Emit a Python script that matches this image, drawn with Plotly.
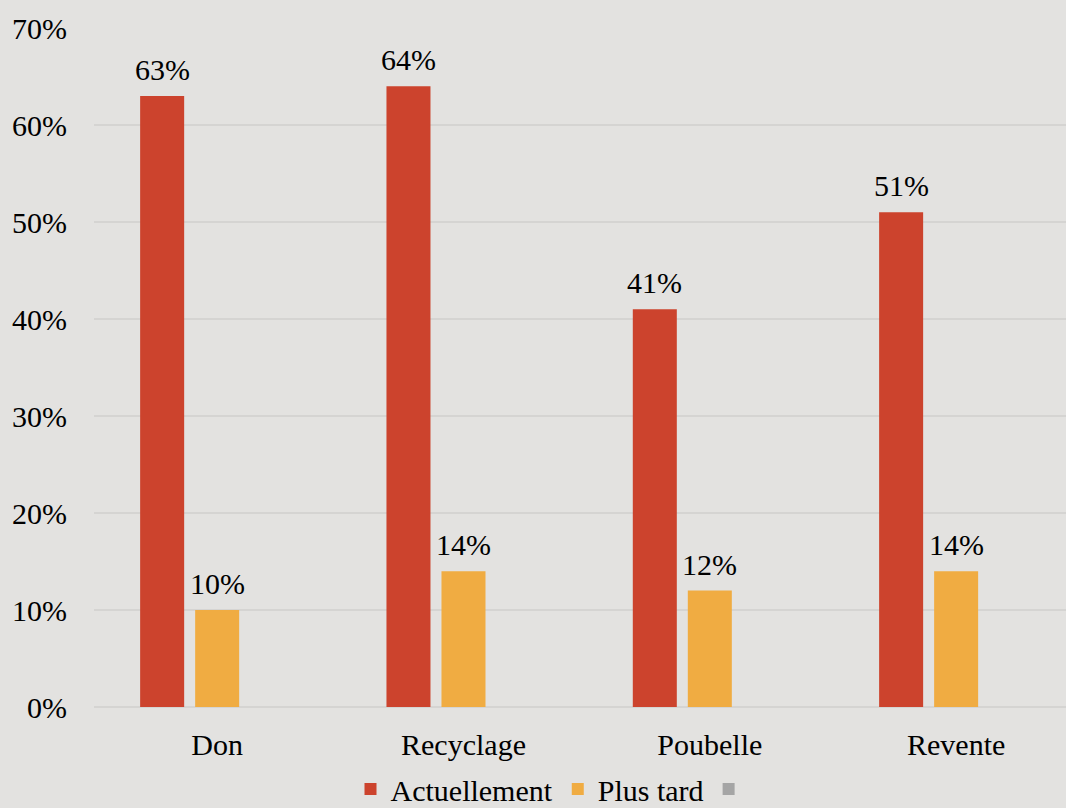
import plotly.graph_objects as go

categories = ["Don", "Recyclage", "Poubelle", "Revente"]
actuellement = [63, 64, 41, 51]
plus_tard = [10, 14, 12, 14]
third_series = [None, None, None, None]
y_ticks = [0, 10, 20, 30, 40, 50, 60, 70]
y_tick_labels = [f"{v}%" for v in y_ticks]

RED = "#cc432d"
ORANGE = "#f0ac42"
GRAY = "#a5a5a5"
BG = "#e3e2e0"
GRID = "#d5d4d2"
FONT = "Liberation Serif"
FS = 30

fig = go.Figure()
fig.add_trace(go.Bar(x=categories, y=actuellement, name="Actuellement",
                     marker=dict(color=RED, line=dict(width=0))))
fig.add_trace(go.Bar(x=categories, y=plus_tard, name="Plus tard",
                     marker=dict(color=ORANGE, line=dict(width=0))))
fig.add_trace(go.Bar(x=categories, y=third_series, name=" ",
                     marker=dict(color=GRAY, line=dict(width=0))))

slot_px = 55
for vals, shift in ((actuellement, -slot_px), (plus_tard, 0)):
    for c, v in zip(categories, vals):
        fig.add_annotation(x=c, y=v, xref="x", yref="y", text=f"{v}%",
                           showarrow=False, xshift=shift, yshift=8,
                           yanchor="bottom", font=dict(family=FONT, size=FS, color="black"))

fig.update_layout(
    width=1066, height=808,
    margin=dict(l=94, r=0, t=28, b=101),
    paper_bgcolor=BG, plot_bgcolor=BG,
    barmode="group", bargap=0.33, bargroupgap=0.2,
    font=dict(family=FONT, size=FS, color="black"),
    showlegend=True,
    legend=dict(orientation="h", xref="container", yref="container",
                x=556 / 1066, xanchor="center", y=(808 - 789) / 808, yanchor="middle",
                font=dict(family=FONT, size=FS, color="black"),
                bgcolor="rgba(0,0,0,0)"),
)
fig.update_xaxes(range=[-0.5, 3.446], showgrid=False, zeroline=False, showline=False,
                 ticks="", ticklabelstandoff=17,
                 tickfont=dict(family=FONT, size=FS, color="black"))
fig.update_yaxes(range=[0, 70], tickvals=y_ticks, ticktext=y_tick_labels,
                 showgrid=True, gridcolor=GRID, gridwidth=2,
                 zeroline=True, zerolinecolor=GRID, zerolinewidth=2,
                 showline=False, ticks="", ticklabelstandoff=26,
                 tickfont=dict(family=FONT, size=FS, color="black"))

fig.write_html("out.html", config={"displayModeBar": False},
               post_script="document.body.style.margin='0';document.body.style.background='" + BG + "';")
